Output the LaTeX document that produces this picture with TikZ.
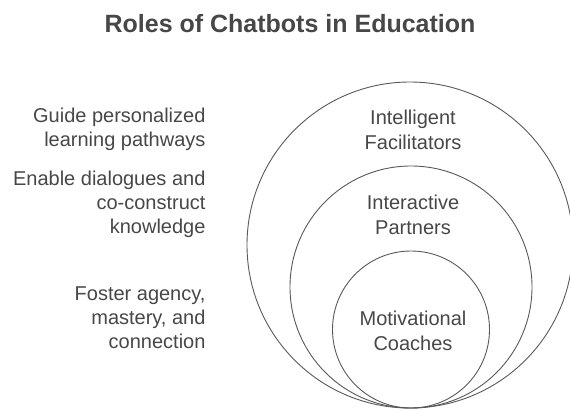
\documentclass[tikz,border=0pt]{standalone}
\usepackage{fontspec}
\setmainfont{Liberation Sans}
\usetikzlibrary{positioning}

\begin{document}
\begin{tikzpicture}[x=1pt, y=-1pt,
			ring/.style={circle, draw=black!65, line width=0.9pt, inner sep=0pt},
			role/.style={text=black!72, align=center, font=\fontsize{20}{24.5}\selectfont},
			task/.style={text=black!72, align=right, anchor=east, font=\fontsize{20}{24}\selectfont},
			title/.style={text=black!72, font=\fontsize{25}{30}\selectfont\bfseries}]
			\useasboundingbox (0,0) rectangle (570,410);
			\node[title] (heading) at (290,24) {Roles of Chatbots in Education};
			% nested circles, all touching at the bottom
			\node[ring, minimum size=326pt] (outer) at (410,245) {};
			\node[ring, minimum size=242pt] (middle) at (411,287) {};
			\node[ring, minimum size=157pt] (inner) at (411,329.5) {};
			\node[role] (facilitators) at (413,130) {Intelligent\\Facilitators};
			\node[role] (partners) at (413,215) {Interactive\\Partners};
			\node[role] (coaches) at (413,331) {Motivational\\Coaches};
			% what each role does
			\node[task] (guide) at (209,129) {Guide personalized\\learning pathways};
			\node[task] (enable) at (209,204) {Enable dialogues and\\co-construct\\knowledge};
			\node[task] (foster) at (209,318) {Foster agency,\\mastery, and\\connection};
		\end{tikzpicture}
\end{document}
